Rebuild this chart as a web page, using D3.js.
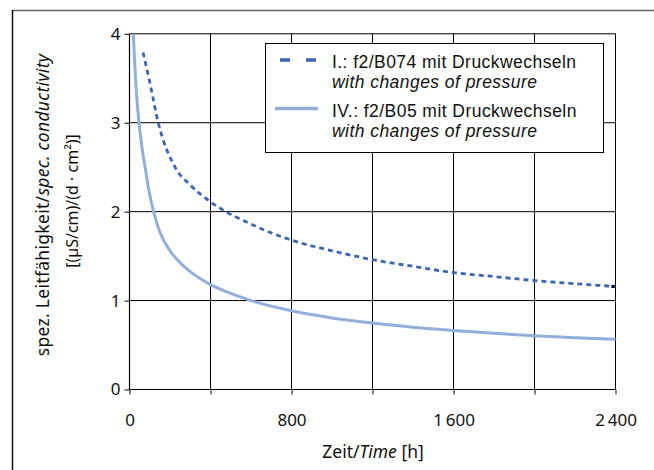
<!DOCTYPE html>
<html><head><meta charset="utf-8">
<script src="https://cdn.jsdelivr.net/npm/d3@7"></script>
<style>body{margin:0;background:#fff}svg{display:block}text{font-family:"Noto Sans",sans-serif;fill:#111}</style>
</head><body>
<svg id="c" width="654" height="470"></svg>
<script>
// ---- data ----
const timeI = [67, 96, 142, 225, 300, 400, 600, 800, 1000, 1200, 1400, 1600, 1800, 2000, 2200, 2400];
const condI = [3.79, 3.5, 3.0, 2.5, 2.3, 2.11, 1.86, 1.68, 1.56, 1.46, 1.385, 1.315, 1.27, 1.225, 1.19, 1.158];
const timeIV = [19, 25, 31, 40, 47, 60, 77, 95, 120, 150, 200, 250, 300, 350, 400, 500, 600, 800, 1000, 1200, 1400, 1600, 1800, 2000, 2200, 2400];
const condIV = [4.0, 3.7, 3.45, 3.17, 3.0, 2.75, 2.5, 2.25, 1.99, 1.77, 1.56, 1.425, 1.325, 1.245, 1.18, 1.08, 1.0, 0.885, 0.805, 0.748, 0.70, 0.663, 0.632, 0.605, 0.583, 0.565];
const xTicks = [0, 400, 800, 1200, 1600, 2000, 2400];
const xTickLabels = ["0", "", "800", "", "1\u2009600", "", "2\u2009400"];
const yTicks = [0, 1, 2, 3, 4];
const yTickLabels = ["0", "1", "2", "3", "4"];
const seriesNames = ["I.: f2/B074 mit Druckwechseln", "IV.: f2/B05 mit Druckwechseln"];
const seriesSub = ["with changes of pressure", "with changes of pressure"];

const svg = d3.select("#c");
const x = d3.scaleLinear().domain([0, 2400]).range([129.5, 615.5]);
const y = d3.scaleLinear().domain([0, 4]).range([389.5, 33.8]);

// outer frame
svg.append("line").attr("x1", 12).attr("x2", 654).attr("y1", 10.5).attr("y2", 10.5).attr("stroke", "#666").attr("stroke-width", 1.6);
svg.append("line").attr("x1", 12.5).attr("x2", 12.5).attr("y1", 10).attr("y2", 470).attr("stroke", "#111").attr("stroke-width", 1.5);

// grid
const g = svg.append("g");
g.selectAll(".hg").data(yTicks.filter(d => d > 0)).join("line")
  .attr("x1", x(0)).attr("x2", x(2400)).attr("y1", d => y(d)).attr("y2", d => y(d))
  .attr("stroke", "#000").attr("stroke-width", 1);
g.selectAll(".vg").data(xTicks.filter(d => d > 0)).join("line")
  .attr("x1", d => x(d)).attr("x2", d => x(d)).attr("y1", y(0)).attr("y2", y(4))
  .attr("stroke", "#000").attr("stroke-width", 1);

// axes
const xAxis = d3.axisBottom(x).tickValues(xTicks).tickFormat((d, i) => xTickLabels[i]).tickSize(5).tickPadding(19);
const yAxis = d3.axisLeft(y).tickValues(yTicks).tickFormat((d, i) => yTickLabels[i]).tickSize(5).tickPadding(4);
const gx = svg.append("g").attr("transform", `translate(0,${y(0)})`).call(xAxis);
const gy = svg.append("g").attr("transform", `translate(${x(0)},0)`).call(yAxis);
[gx, gy].forEach(a => {
  a.select(".domain").attr("stroke", "#000").attr("stroke-width", 1.2);
  a.selectAll(".tick line").attr("stroke", "#000");
  a.selectAll("text").style("font-family", "'Noto Sans',sans-serif").style("font-size", "17px").attr("fill", "#111");
});
gx.select(".domain").attr("d", `M${x(0)},0H${x(2400)}`);
gy.select(".domain").attr("d", `M0,${y(0)}V${y(4)}`);

// lines
const line = d3.line().x(d => x(d[0])).y(d => y(d[1])).curve(d3.curveMonotoneX);
const dataI = timeI.map((t, i) => [t, condI[i]]);
const dataIV = timeIV.map((t, i) => [t, condIV[i]]);
svg.append("path").attr("d", line(dataIV)).attr("fill", "none").attr("stroke", "#93afdc").attr("stroke-width", 3);
svg.append("path").attr("d", line(dataI)).attr("fill", "none").attr("stroke", "#3b66b2").attr("stroke-width", 2.8).attr("stroke-dasharray", "5,4");
const last = dataI[dataI.length - 1];
svg.append("rect").attr("x", x(last[0]) - 4).attr("y", y(last[1]) - 1.5).attr("width", 3).attr("height", 3).attr("fill", "#000");

// legend
const lg = svg.append("g");
lg.append("rect").attr("x", 265.5).attr("y", 43.5).attr("width", 338).attr("height", 109).attr("fill", "#fff").attr("stroke", "#000").attr("stroke-width", 1);
lg.append("line").attr("x1", 280).attr("x2", 316).attr("y1", 60).attr("y2", 60).attr("stroke", "#3b66b2").attr("stroke-width", 3.5).attr("stroke-dasharray", "10,16");
lg.append("line").attr("x1", 275).attr("x2", 318).attr("y1", 108.5).attr("y2", 108.5).attr("stroke", "#93afdc").attr("stroke-width", 3.5);
[[68, 0], [117, 1]].forEach(([by, i]) => {
  lg.append("text").attr("x", 332).attr("y", by)
    .style("font-family", "'Liberation Sans',Arial,sans-serif").style("font-size", "17.5px").style("letter-spacing", "0.45px")
    .text(seriesNames[i]);
  lg.append("text").attr("x", 332).attr("y", by + 20)
    .style("font-family", "'Liberation Sans',Arial,sans-serif").style("font-size", "17.5px").style("letter-spacing", "0.45px")
    .style("font-style", "italic").text(seriesSub[i]);
});

// axis titles
const xt = svg.append("text").attr("x", 373).attr("y", 458).attr("text-anchor", "middle").style("font-size", "17.5px");
xt.append("tspan").text("Zeit/");
xt.append("tspan").style("font-style", "italic").text("Time");
xt.append("tspan").text(" [h]");
const yt = svg.append("text").attr("transform", "translate(48.5,205) rotate(-90)").attr("text-anchor", "middle").style("font-size", "17.5px");
const l1 = yt.append("tspan").attr("x", 0).attr("y", 0).style("letter-spacing", "0.3px");
l1.append("tspan").text("spez. Leitfähigkeit/");
l1.append("tspan").style("font-style", "italic").text("spec. conductivity");
yt.append("tspan").attr("x", 4).attr("y", 29).style("font-size", "16px").text("[(µS/cm)/(d · cm²)]");
</script>
</body></html>
